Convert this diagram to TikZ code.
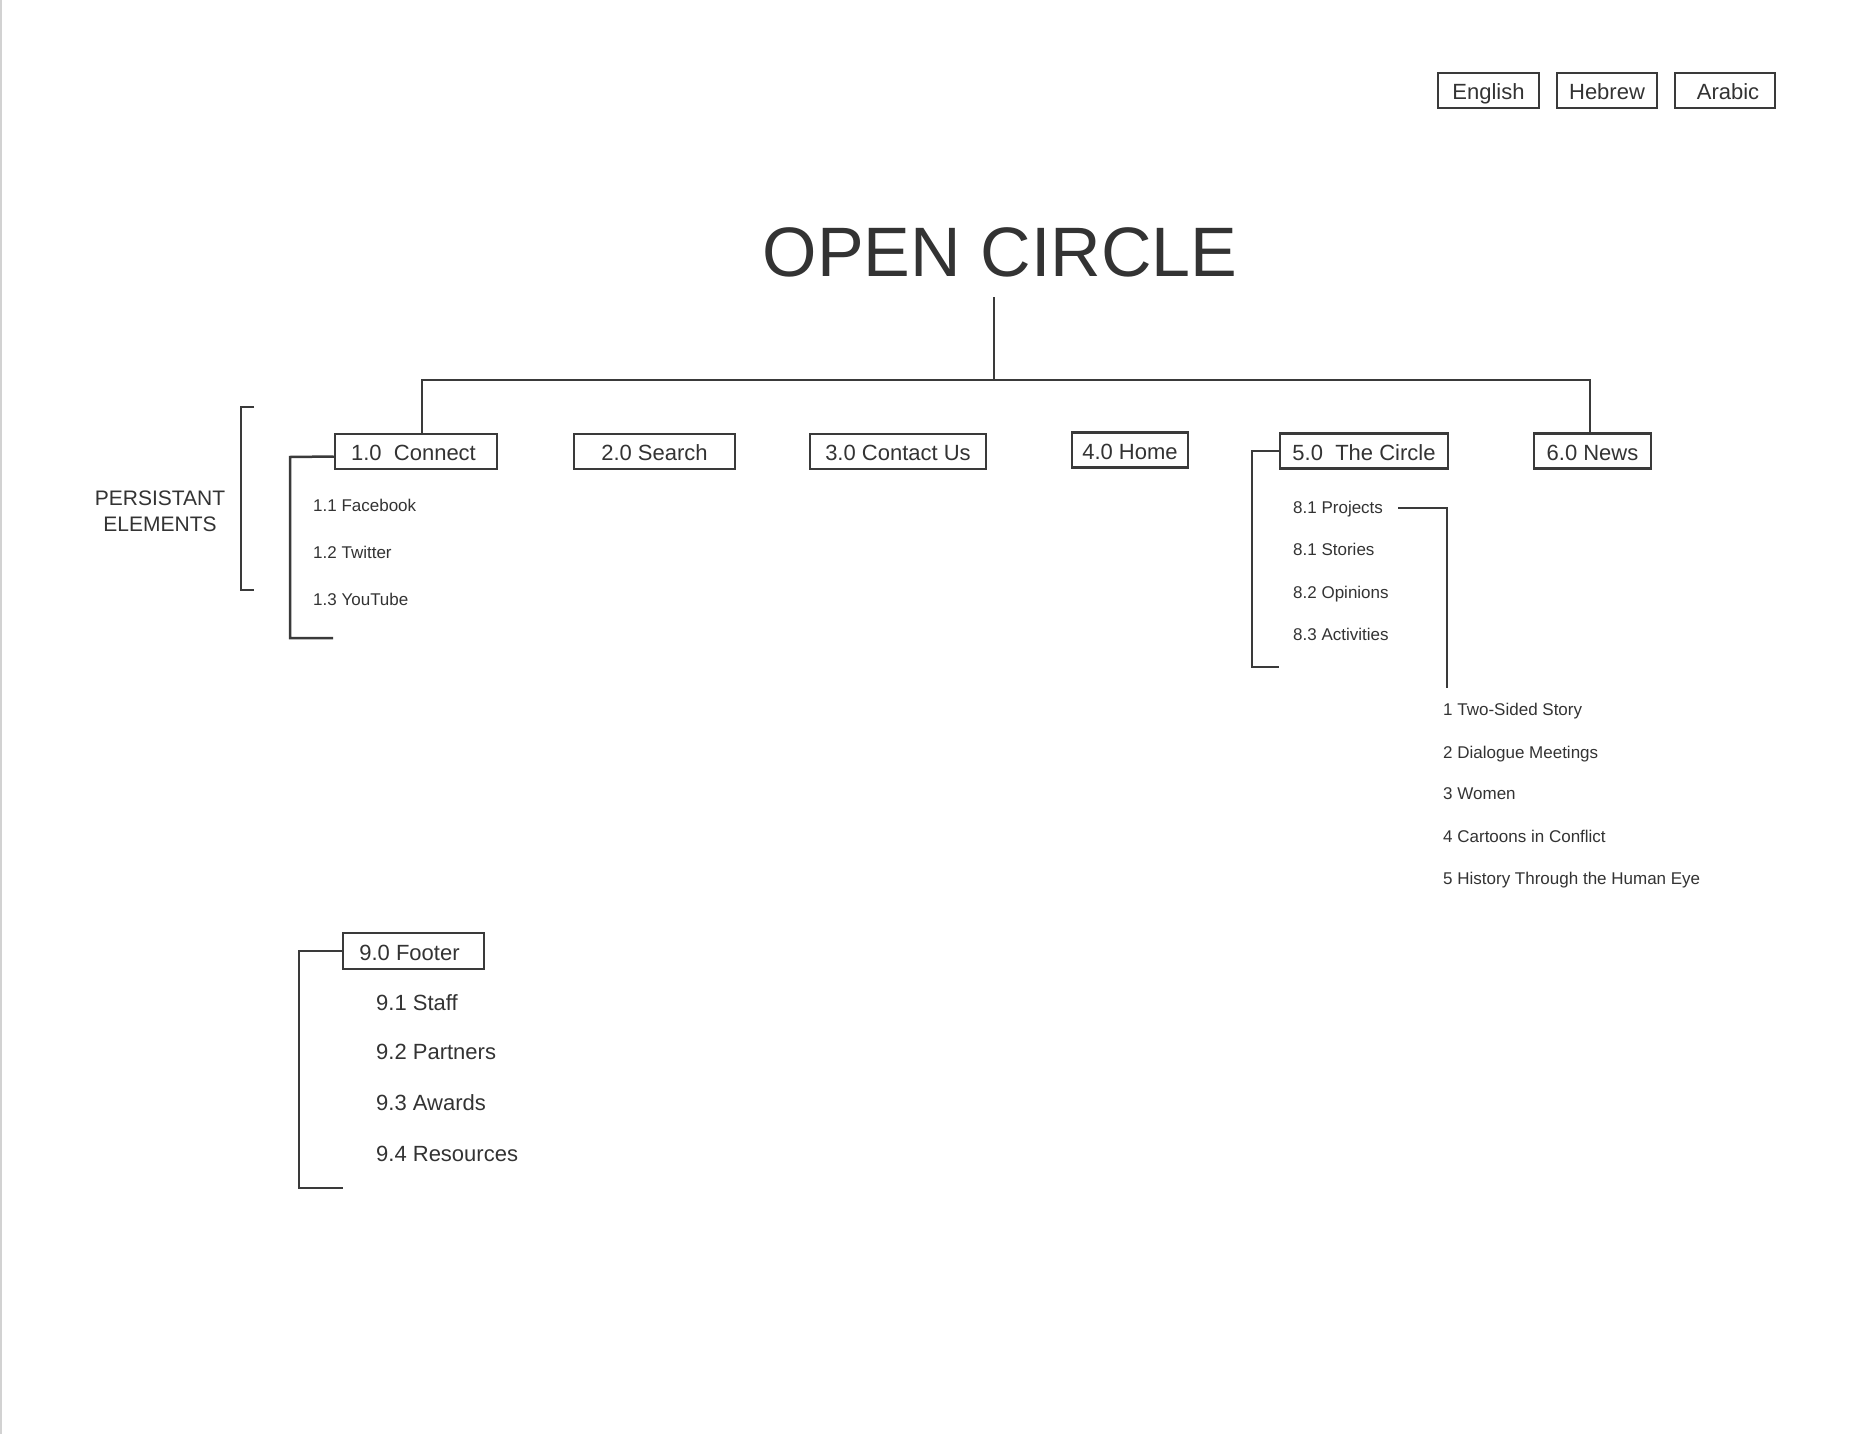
\documentclass[tikz,border=0pt]{standalone}
\usepackage{fontspec}
\setmainfont{Liberation Sans}
\definecolor{ink}{HTML}{333333}
\definecolor{ln}{HTML}{3A3A3A}
\begin{document}
\begin{tikzpicture}[x=1pt,y=1pt,
  box/.style={draw=ln,line width=2.5pt,minimum height=35pt,inner sep=0pt,text height=18pt,text depth=0pt,text=ink,font=\fontsize{22}{26}\selectfont},
  item/.style={anchor=base west,inner sep=0pt,text=ink,font=\fontsize{17}{20}\selectfont},
  bigitem/.style={anchor=base west,inner sep=0pt,text=ink,font=\fontsize{22}{26}\selectfont},
  label/.style={anchor=base,inner sep=0pt,text=ink,font=\fontsize{21}{26}\selectfont},
  wire/.style={draw=ln,line width=2.5pt}]
\useasboundingbox (0,0) rectangle (1862,-1434);
\fill[white] (0,0) rectangle (1862,-1434);
\draw[gray!35,line width=2pt] (1,0) -- (1,-1434);

% language boxes
\node[box,minimum width=101pt] (en) at (1488.5,-90.5) {English};
\node[box,minimum width=100pt] (he) at (1607,-90.5) {Hebrew};
\node[box,minimum width=100pt] (ar) at (1725,-90.5) {\hspace*{6pt}Arabic};

% title
\node[anchor=base,inner sep=0pt,text=ink,font=\fontsize{70}{80}\selectfont] (title) at (1000,-276) {OPEN CIRCLE};

% main boxes
\node[box,minimum width=162pt] (conn) at (416,-451.5) {1.0\ \ Connect\hspace*{5pt}};
\node[box,minimum width=161pt] (search) at (654.5,-451.5) {2.0 Search};
\node[box,minimum width=176pt] (contact) at (898,-451.5) {3.0 Contact Us};
\node[box,minimum width=116pt] (home) at (1130,-450) {4.0 Home};
\node[box,minimum width=168pt] (circ) at (1364,-451) {5.0\ \ The Circle};
\node[box,minimum width=117pt] (news) at (1592.5,-451) {6.0 News};

% tree connectors
\coordinate (trunk) at (994,-297);
\coordinate (busL) at (422,-380);
\coordinate (busR) at (1590,-380);
\draw[wire] (trunk) -- (trunk |- busL);
\draw[wire] (conn.north -| busL) -- (busL) -- (busR) -- (news.north -| busR);

% persistant elements
\node[label] (pe1) at (160,-505) {PERSISTANT};
\node[label] (pe2) at (160,-531) {ELEMENTS};
\coordinate (pbt) at (254,-407);
\coordinate (pbb) at (254,-590);
\draw[wire] (pbt) -- (241,-407) -- (241,-590) -- (pbb);

% connect items
\node[item] (fb) at (313,-511) {1.1 Facebook};
\node[item] (tw) at (313,-558) {1.2 Twitter};
\node[item] (yt) at (313,-605) {1.3 YouTube};
\coordinate (cend) at (333,-638);
\draw[wire] ([yshift=-5pt]conn.west) -- (290,-457) -- (290,-638) -- (cend);

% circle items
\node[item] (proj) at (1293,-513) {8.1 Projects};
\node[item] (stor) at (1293,-555) {8.1 Stories};
\node[item] (opin) at (1293,-598) {8.2 Opinions};
\node[item] (act) at (1293,-640) {8.3 Activities};
\coordinate (circend) at (1279,-667);
\draw[wire] (circ.west) -- (1252,-451) -- (1252,-667) -- (circend);

\coordinate (pdrop) at (1447,-688);
\draw[wire] ([xshift=15pt,yshift=5pt]proj.base east) -| (pdrop);

\node[item] (p1) at (1443,-715) {1 Two-Sided Story};
\node[item] (p2) at (1443,-758) {2 Dialogue Meetings};
\node[item] (p3) at (1443,-799) {3 Women};
\node[item] (p4) at (1443,-842) {4 Cartoons in Conflict};
\node[item] (p5) at (1443,-884) {5 History Through the Human Eye};

% footer
\node[box,minimum width=141pt,minimum height=36pt] (foot) at (413.5,-951) {9.0 Footer\hspace*{8pt}};
\node[bigitem] (f1) at (376,-1010) {9.1 Staff};
\node[bigitem] (f2) at (376,-1059) {9.2 Partners};
\node[bigitem] (f3) at (376,-1110) {9.3 Awards};
\node[bigitem] (f4) at (376,-1161) {9.4 Resources};
\coordinate (fend) at (343,-1188);
\draw[wire] (foot.west) -- (299,-951) -- (299,-1188) -- (fend);
\end{tikzpicture}
\end{document}
